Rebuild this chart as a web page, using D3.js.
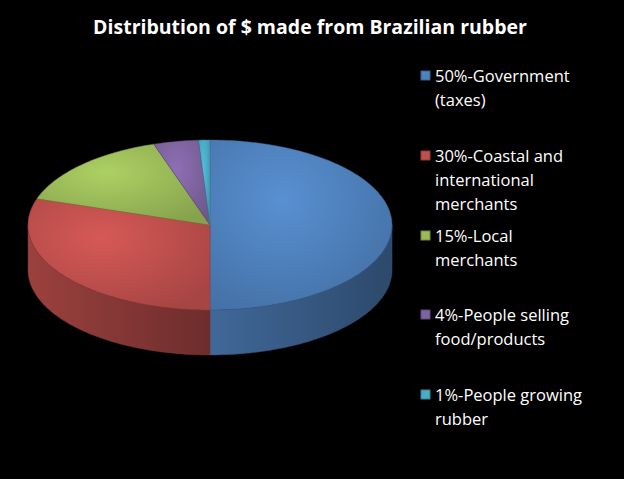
<!DOCTYPE html>
<html><head><meta charset="utf-8">
<script src="https://cdnjs.cloudflare.com/ajax/libs/d3/7.8.5/d3.min.js"></script>
<style>body{margin:0;background:#000}svg{display:block}</style>
</head><body>
<svg id="chart" width="624" height="479"></svg>
<script>
var labels = [["50%-Government", "(taxes)"],
              ["30%-Coastal and", "international", "merchants"],
              ["15%-Local", "merchants"],
              ["4%-People selling", "food/products"],
              ["1%-People growing", "rubber"]];
var values = [50, 30, 15, 4, 1];
var colors = ["#4f81bd", "#c0504d", "#9bbb59", "#8064a2", "#4bacc6"];
var legendY = [82, 162, 242, 321, 401];

var svg = d3.select("#chart");
var cx = 210, cy = 225, rx = 182, ry = 85, depth = 45;

svg.append("text").attr("x", 310).attr("y", 34).attr("text-anchor", "middle")
  .attr("fill", "#fff").attr("font-family", "Open Sans, sans-serif")
  .attr("font-weight", "bold").attr("font-size", 19.5).text("Distribution of $ made from Brazilian rubber");

var defs = svg.append("defs");
colors.forEach(function (c, i) {
  var g = defs.append("radialGradient").attr("id", "top" + i)
    .attr("cx", "40%").attr("cy", "35%").attr("r", "75%");
  g.append("stop").attr("offset", "0%").attr("stop-color", d3.color(c).brighter(0.3));
  g.append("stop").attr("offset", "100%").attr("stop-color", d3.color(c).darker(0.4));
  var s = defs.append("linearGradient").attr("id", "side" + i);
  s.append("stop").attr("offset", "0%").attr("stop-color", d3.color(c).darker(0.6));
  s.append("stop").attr("offset", "100%").attr("stop-color", d3.color(c).darker(1.6));
});

var arcs = d3.pie().sort(null)(values);
function pt(a, dy) { return [cx + rx * Math.sin(a), cy - ry * Math.cos(a) + (dy || 0)]; }
function sample(a0, a1, dy) {
  var n = Math.max(2, Math.ceil((a1 - a0) / 0.02)), out = [];
  for (var k = 0; k <= n; k++) out.push(pt(a0 + (a1 - a0) * k / n, dy));
  return out;
}
var line = d3.line();

// side walls (front half only)
arcs.forEach(function (d, i) {
  var a0 = Math.max(d.startAngle, Math.PI / 2), a1 = Math.min(d.endAngle, 3 * Math.PI / 2);
  if (a1 <= a0) return;
  var p = sample(a0, a1, 0).concat(sample(a0, a1, depth).reverse());
  svg.append("path").attr("d", line(p) + "Z").attr("fill", "url(#side" + i + ")")
    .attr("stroke", d3.color(colors[i]).darker(1.2)).attr("stroke-width", 0.5);
});
// top faces
arcs.forEach(function (d, i) {
  var p = [[cx, cy]].concat(sample(d.startAngle, d.endAngle, 0));
  svg.append("path").attr("d", line(p) + "Z").attr("fill", "url(#top" + i + ")")
    .attr("stroke", d3.color(colors[i]).darker(0.8)).attr("stroke-width", 0.5);
});

// legend
labels.forEach(function (ls, i) {
  svg.append("rect").attr("x", 421).attr("y", legendY[i] - 11).attr("width", 9).attr("height", 9)
    .attr("fill", colors[i]).attr("stroke", d3.color(colors[i]).darker(0.8));
  ls.forEach(function (t, j) {
    svg.append("text").attr("x", 435).attr("y", legendY[i] + j * 24)
      .attr("fill", "#fff").attr("font-family", "Open Sans, sans-serif").attr("font-size", 16.5).text(t);
  });
});
</script>
</body></html>
